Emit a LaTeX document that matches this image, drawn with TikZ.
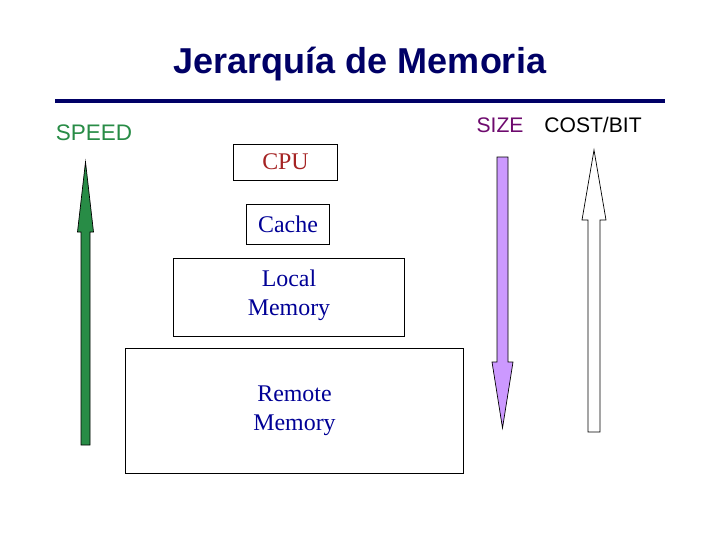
\documentclass[tikz,border=0pt]{standalone}
\usepackage{fontspec}
\setmainfont{Liberation Serif}
\setsansfont{Liberation Sans}
\usepackage{xcolor}
\usepackage{tikz}
\usetikzlibrary{positioning}
\definecolor{titlenavy}{RGB}{0, 0, 102}
\definecolor{speedgreen}{RGB}{40, 140, 70}
\definecolor{sizeviolet}{RGB}{204, 153, 255}
\definecolor{sizelabel}{RGB}{110, 10, 110}
\definecolor{cpured}{RGB}{165, 35, 35}
\definecolor{memblue}{RGB}{0, 0, 150}

\begin{document}
\begin{tikzpicture}[x=0.025cm, y=-0.025cm,
  levelbox/.style={draw=black, line width=0.7pt, fill=white, align=center,
    font=\fontsize{17}{20.5}\selectfont, inner sep=0pt},
  sidelabel/.style={font=\sffamily\fontsize{15}{18}\selectfont}]
\useasboundingbox[fill=white] (0,0) rectangle (720,540);
% Vertical block arrows: {x centre}{tail y}{head base y}{tip y}{shaft half}{head half}{fill}
\newcommand{\bigarrow}[7]{%
  \filldraw[fill=#7, draw=black, line width=0.5pt]
    (#1-#5,#2) -- (#1-#5,#3) -- (#1-#6,#3) -- (#1,#4)
    -- (#1+#6,#3) -- (#1+#5,#3) -- (#1+#5,#2) -- cycle;
}
% title and rule
\node[font=\sffamily\bfseries\fontsize{25.6}{30}\selectfont, text=titlenavy] (title) at (360,64)
  {Jerarquía de Memoria};
\draw[titlenavy, line width=3.5pt] (55,101) -- (665,101);
% memory levels
\node[levelbox, minimum width=2.575cm, minimum height=0.9cm, text=cpured] (cpu) at (285.5,162) {CPU};
\node[levelbox, minimum width=2.075cm, minimum height=1.0cm, text=memblue] (cache) at (288,224) {Cache};
\node[levelbox, minimum width=5.75cm, minimum height=1.95cm, text=memblue] (local) at (289,297) {Local\\Memory\\[-14.5pt]};
\node[levelbox, minimum width=8.425cm, minimum height=3.125cm, text=memblue] (remote) at (294.5,410.5) {Remote\\Memory};
% side labels
\node[sidelabel, font=\sffamily\fontsize{16}{19}\selectfont, text=speedgreen] (speed) at (94,133) {SPEED};
\node[sidelabel, text=sizelabel] (size) at (500,125) {SIZE};
\node[sidelabel, text=black] (cost) at (593,125) {COST/BIT};
% arrows
\bigarrow{85.5}{445}{232}{162}{4.5}{8}{speedgreen}
\bigarrow{502.5}{157}{362}{428}{5.5}{10.5}{sizeviolet}
\bigarrow{594}{432}{220}{150}{6}{12}{white}
\end{tikzpicture}
\end{document}
